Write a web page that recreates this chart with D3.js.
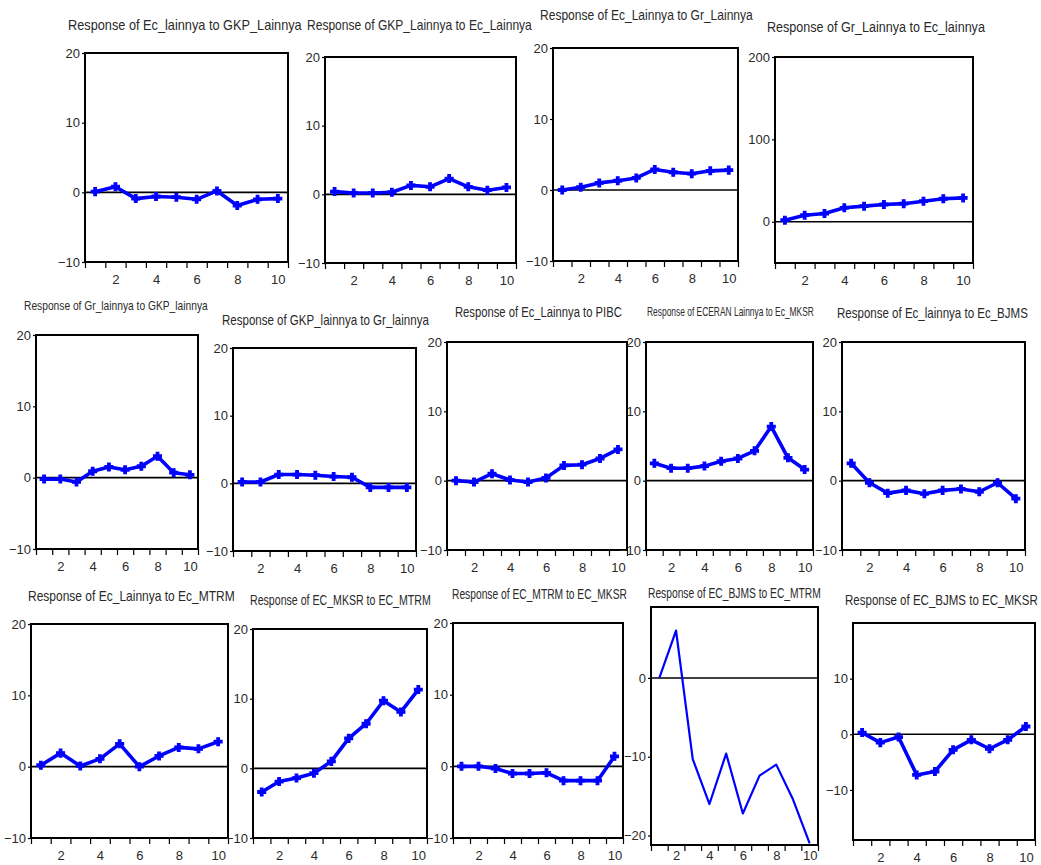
<!DOCTYPE html>
<html>
<head>
<meta charset="utf-8">
<script src="https://cdn.jsdelivr.net/npm/d3@7"></script>
<style>
  html, body { margin: 0; padding: 0; background: #fff; }
  svg { display: block; }
  text { font-family: "Liberation Sans Narrow", "Arial Narrow", "Liberation Sans", Arial, sans-serif; fill: #2a2a2a; }
</style>
</head>
<body>
<svg id="chart" width="1041" height="865"></svg>
<script>
// ---------------- DATA ----------------
const periods = [1, 2, 3, 4, 5, 6, 7, 8, 9, 10];
const xTickLabels = [2, 4, 6, 8, 10];

const titles = [
  "Response of Ec_lainnya to GKP_Lainnya",
  "Response of GKP_Lainnya to Ec_Lainnya",
  "Response of Ec_Lainnya  to Gr_Lainnya",
  "Response of Gr_Lainnya to Ec_lainnya",
  "Response of Gr_lainnya to GKP_lainnya",
  "Response of GKP_lainnya to Gr_lainnya",
  "Response of Ec_Lainnya to PIBC",
  "Response of ECERAN Lainnya to Ec_MKSR",
  "Response of Ec_lainnya to Ec_BJMS",
  "Response of Ec_Lainnya to Ec_MTRM",
  "Response of EC_MKSR to EC_MTRM",
  "Response of EC_MTRM to EC_MKSR",
  "Response of EC_BJMS to EC_MTRM",
  "Response of EC_BJMS to EC_MKSR"
];

const ecLainnyaToGkp    = [0.1, 0.8, -0.9, -0.6, -0.7, -1.0, 0.2, -1.9, -1.0, -0.9];
const gkpToEcLainnya    = [0.4, 0.2, 0.2, 0.3, 1.3, 1.1, 2.3, 1.1, 0.6, 1.0];
const ecLainnyaToGr     = [0.0, 0.4, 1.0, 1.3, 1.7, 2.9, 2.5, 2.3, 2.7, 2.8];
const grToEcLainnya     = [2, 8, 10, 17, 19, 21, 22, 25, 28, 29];
const grToGkp           = [-0.2, -0.2, -0.6, 0.9, 1.5, 1.1, 1.6, 3.0, 0.7, 0.4];
const gkpToGr           = [0.2, 0.2, 1.3, 1.3, 1.2, 1.0, 0.9, -0.6, -0.6, -0.6];
const ecLainnyaToPibc   = [0.0, -0.2, 1.0, 0.1, -0.2, 0.4, 2.2, 2.3, 3.2, 4.5];
const eceranToMksr      = [2.5, 1.8, 1.8, 2.1, 2.8, 3.2, 4.3, 7.8, 3.3, 1.6];
const ecLainnyaToBjms   = [2.5, -0.3, -1.8, -1.4, -1.9, -1.4, -1.2, -1.6, -0.3, -2.6];
const ecLainnyaToMtrm   = [0.2, 1.9, 0.1, 1.1, 3.2, 0.0, 1.5, 2.7, 2.5, 3.5];
const mksrToMtrm        = [-3.4, -1.9, -1.4, -0.7, 1.0, 4.3, 6.4, 9.7, 8.1, 11.3];
const mtrmToMksr        = [0.0, 0.0, -0.3, -1.0, -1.0, -0.9, -2.0, -2.0, -2.0, 1.4];
const bjmsToMtrm        = [0.0, 6.0, -10.3, -16.0, -9.6, -17.2, -12.4, -11.0, -15.4, -21.0];
const bjmsToMksr        = [0.3, -1.5, -0.5, -7.3, -6.7, -2.8, -1.0, -2.6, -1.0, 1.4];

const seriesList = [
  ecLainnyaToGkp, gkpToEcLainnya, ecLainnyaToGr, grToEcLainnya,
  grToGkp, gkpToGr, ecLainnyaToPibc, eceranToMksr, ecLainnyaToBjms,
  ecLainnyaToMtrm, mksrToMtrm, mtrmToMksr, bjmsToMtrm, bjmsToMksr
];

const yTicksStd  = [-10, 0, 10, 20];
const yTicksGr   = [0, 100, 200];
const yTicksBjM  = [-20, -10, 0];
const yTicksBjK  = [-10, 0, 10];
const yTicksList = [yTicksStd, yTicksStd, yTicksStd, yTicksGr,
  yTicksStd, yTicksStd, yTicksStd, yTicksStd, yTicksStd,
  yTicksStd, yTicksStd, yTicksStd, yTicksBjM, yTicksBjK];
const yDomains = [[-10,20],[-10,20],[-10,20],[-50,200],
  [-10,20],[-10,20],[-10,20],[-10,20],[-10,20],
  [-10,20],[-10,20],[-10,20],[-21.2,9],[-19,20]];

// ---------------- LAYOUT ----------------
// box: left, top, right, bottom ; title: x, y(center), width, size
const layout = [
  {l:85,  t:53,  r:288, b:262, tx:68,  ty:25,  tw:234, ts:14},
  {l:325, t:57,  r:516, b:263, tx:307, ty:25,  tw:225, ts:14},
  {l:553, t:48,  r:738, b:261, tx:540, ty:15,  tw:213, ts:14},
  {l:775, t:57,  r:973, b:263, tx:767, ty:27,  tw:218, ts:14},
  {l:36,  t:335, r:198, b:549, tx:24,  ty:305, tw:184, ts:13},
  {l:233, t:348, r:416, b:551, tx:222, ty:320, tw:207, ts:14},
  {l:447, t:342, r:627, b:550, tx:455, ty:312, tw:167, ts:14},
  {l:646, t:342, r:813, b:550, tx:647, ty:312, tw:167, ts:12},
  {l:842, t:342, r:1025,b:550, tx:837, ty:313, tw:191, ts:14},
  {l:31,  t:624, r:228, b:838, tx:28,  ty:596, tw:207, ts:14},
  {l:253, t:629, r:427, b:838, tx:250, ty:600, tw:181, ts:14},
  {l:453, t:623, r:623, b:838, tx:452, ty:594, tw:175, ts:14},
  {l:651, t:607, r:818, b:845, tx:648, ty:593, tw:173, ts:14, thin:true, lp:6},
  {l:853, t:623, r:1035,b:840, tx:845, ty:600, tw:193, ts:14}
];

const FONT = "'Liberation Sans Narrow','Arial Narrow','Liberation Sans',Arial,sans-serif";
const svg = d3.select("#chart");

layout.forEach((L, i) => {
  const g = svg.append("g");
  const x = d3.scaleLinear().domain([0.5, 10.5]).range([L.l, L.r]);
  const y = d3.scaleLinear().domain(yDomains[i]).range([L.b, L.t]);

  // title: scaled horizontally to the reference width
  const tt = g.append("text")
    .attr("x", 0).attr("y", 0)
    .attr("dy", "0.35em")
    .attr("font-size", L.ts)
    .text(titles[i]);
  const natural = tt.node().getComputedTextLength();
  tt.attr("transform", `translate(${L.tx},${L.ty}) scale(${L.tw / natural},1)`);

  // y axis
  const yAxis = d3.axisLeft(y).tickValues(yTicksList[i]).tickSize(3).tickPadding(2).tickFormat(d3.format("d"));
  const ya = g.append("g").attr("transform", `translate(${L.l},0)`).call(yAxis);
  ya.select(".domain").remove();
  ya.selectAll("line").attr("stroke", "#000").attr("stroke-width", 1.2);
  ya.selectAll("text").attr("font-size", 13).attr("fill", "#2a2a2a").attr("font-family", FONT);

  // x axis ticks (between periods)
  const tickPos = d3.range(0.5, 11, 1);
  const xAxisTicks = d3.axisBottom(x).tickValues(tickPos).tickSize(6).tickFormat("");
  const xa = g.append("g").attr("transform", `translate(0,${L.b})`).call(xAxisTicks);
  xa.select(".domain").remove();
  xa.selectAll("line").attr("stroke", "#000").attr("stroke-width", 1.2);

  // x labels
  const xAxisLabels = d3.axisBottom(x).tickValues(xTickLabels).tickSize(0)
    .tickPadding(L.lp != null ? L.lp : 13).tickFormat(d3.format("d"));
  const xl = g.append("g").attr("transform", `translate(0,${L.b})`).call(xAxisLabels);
  xl.select(".domain").remove();
  xl.selectAll("text").attr("font-size", 13).attr("fill", "#2a2a2a").attr("font-family", FONT);

  // zero line
  g.append("line")
    .attr("x1", L.l).attr("x2", L.r)
    .attr("y1", y(0)).attr("y2", y(0))
    .attr("stroke", "#000").attr("stroke-width", 1.6);

  // series line
  const data = periods.map((p, k) => ({p, v: seriesList[i][k]}));
  const line = d3.line().x(d => x(d.p)).y(d => y(d.v));
  g.append("path")
    .datum(data)
    .attr("d", line)
    .attr("fill", "none")
    .attr("stroke", "#0000ff")
    .attr("stroke-width", L.thin ? 2.2 : 3.6)
    .attr("stroke-linejoin", "round");

  if (!L.thin) {
    g.selectAll(".mk")
      .data(data)
      .enter().append("path")
      .attr("class", "mk")
      .attr("transform", d => `translate(${x(d.p)},${y(d.v)})`)
      .attr("d", d3.symbol(d3.symbolCross).size(34))
      .attr("fill", "#0000ff")
      .attr("stroke", "#0000ff")
      .attr("stroke-width", 1.2);
  }

  // frame
  g.append("rect")
    .attr("x", L.l).attr("y", L.t)
    .attr("width", L.r - L.l).attr("height", L.b - L.t)
    .attr("fill", "none").attr("stroke", "#000").attr("stroke-width", 2);
});
</script>
</body>
</html>
